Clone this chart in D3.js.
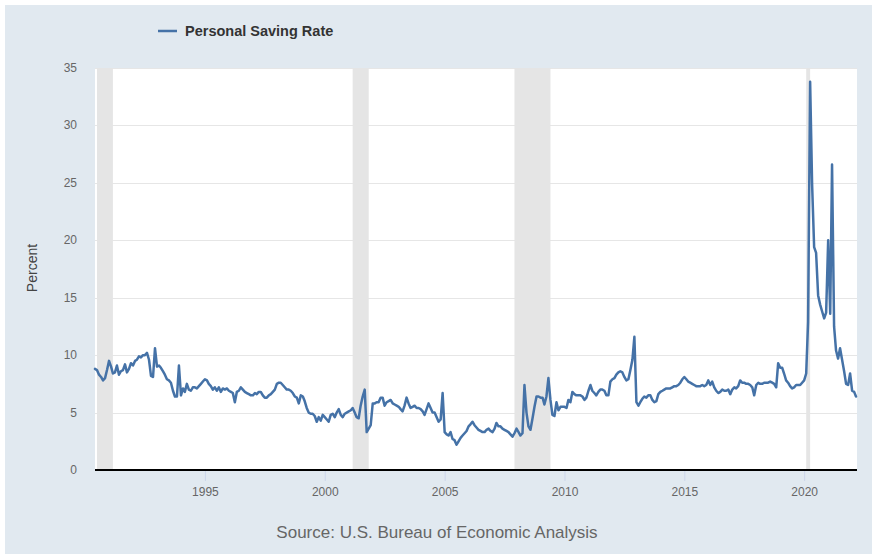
<!DOCTYPE html>
<html>
<head>
<meta charset="utf-8">
<script src="https://cdn.jsdelivr.net/npm/d3@7"></script>
<style>
    html, body { margin: 0; padding: 0; background: #fff; }
    svg { display: block; font-family: "Liberation Sans", Arial, sans-serif; }
</style>
</head>
<body>
<svg id="chart" width="877" height="559"></svg>
<script>
// monthly personal saving rate (percent), first value is June 1990
var firstMonth = "1990-06";
var rates1990s = [
    8.8, 8.7, 8.3, 8.1, 7.8, 8.0, 8.7,
    9.5, 9.0, 8.4, 8.5, 9.1, 8.3, 8.6, 8.7, 9.2, 8.5, 8.8, 9.3,
    9.1, 9.5, 9.6, 9.9, 9.8, 10.0, 10.0, 10.2, 9.6, 8.2, 8.1, 10.6,
    9.0, 9.1, 8.9, 8.6, 8.3, 7.9, 7.8, 7.6, 6.9, 6.4, 6.4, 9.1,
    6.5, 7.1, 6.8, 7.5, 7.0, 6.9, 7.2, 7.2, 7.1, 7.3, 7.5, 7.7,
    7.9, 7.8, 7.5, 7.3, 7.0, 7.2, 6.9, 7.2, 6.8, 7.1, 7.0, 7.1,
    6.9, 6.8, 6.7, 5.9, 6.8, 6.9, 7.2, 7.0, 6.8, 6.7, 6.6, 6.5,
    6.5, 6.7, 6.6, 6.8, 6.8, 6.5, 6.3, 6.3, 6.5, 6.6, 6.8, 7.0,
    7.5, 7.6, 7.6, 7.4, 7.2, 7.0, 7.0, 6.9, 6.7, 6.4, 6.3, 5.8,
    6.5, 6.4, 6.0, 5.4, 5.0, 4.9, 4.9, 4.7, 4.2, 4.6, 4.3, 4.8
];
var rates2000s = [
    4.6, 4.4, 4.2, 4.8, 4.9, 4.6, 5.0, 5.3, 4.8, 4.6, 4.9, 5.0,
    5.1, 5.2, 5.4, 5.0, 4.6, 4.5, 5.6, 6.4, 7.0, 3.3, 3.6, 3.9,
    5.8, 5.8, 5.9, 5.9, 6.3, 6.3, 5.6, 5.9, 6.0, 6.1, 5.8, 5.7,
    5.6, 5.5, 5.3, 5.1, 5.6, 6.3, 5.8, 5.4, 5.5, 5.6, 5.4, 5.4,
    5.3, 5.1, 4.8, 5.3, 5.8, 5.4, 5.0, 5.0, 4.6, 4.2, 4.4, 6.7,
    3.3, 3.1, 3.0, 3.3, 2.7, 2.6, 2.2, 2.5, 2.8, 3.0, 3.2, 3.4,
    3.8, 4.0, 4.2, 3.9, 3.7, 3.5, 3.4, 3.3, 3.3, 3.5, 3.6, 3.4,
    3.3, 3.6, 4.1, 3.8, 3.8, 3.6, 3.5, 3.4, 3.3, 3.1, 2.9, 3.2,
    3.6, 3.3, 3.0, 3.2, 7.4, 5.0, 3.8, 3.5, 4.5, 5.5, 6.4, 6.4,
    6.3, 6.3, 5.7, 6.4, 8.0, 6.1, 4.8, 4.7, 5.9, 5.2, 5.5, 5.5
];
var rates2010s = [
    5.5, 5.4, 6.1, 5.9, 6.8, 6.6, 6.5, 6.5, 6.5, 6.4, 6.1, 6.3,
    6.9, 7.4, 6.9, 6.7, 6.5, 6.8, 7.0, 7.0, 6.9, 6.5, 6.5, 7.7,
    7.9, 8.0, 8.3, 8.5, 8.6, 8.5, 8.1, 7.8, 7.9, 8.7, 9.6, 11.6,
    5.9, 5.6, 5.9, 6.2, 6.4, 6.3, 6.5, 6.5, 6.1, 5.9, 6.0, 6.6,
    6.8, 6.9, 7.0, 7.1, 7.1, 7.1, 7.2, 7.3, 7.3, 7.4, 7.6, 7.9,
    8.1, 7.9, 7.7, 7.6, 7.5, 7.4, 7.3, 7.3, 7.3, 7.4, 7.3, 7.4,
    7.8, 7.4, 7.7, 7.2, 6.9, 6.7, 6.8, 7.0, 6.9, 6.9, 7.0, 6.6,
    7.0, 7.2, 7.1, 7.3, 7.8, 7.6, 7.6, 7.5, 7.5, 7.4, 7.2, 6.5,
    7.4, 7.6, 7.5, 7.5, 7.6, 7.6, 7.6, 7.7, 7.6, 7.5, 7.2, 9.3,
    8.9, 8.9, 8.4, 7.8, 7.6, 7.3, 7.1, 7.2, 7.4, 7.4, 7.4, 7.6
];
var rates2020s = [
    7.8, 8.4, 12.9, 33.8, 24.9, 19.4, 18.9, 15.2, 14.4, 13.8, 13.2, 13.7,
    20.0, 13.6, 26.6, 12.5, 10.4, 9.7, 10.6, 9.6, 8.6, 7.5, 7.4, 8.4,
    6.9, 6.8, 6.4
];

var recessionStarts = ["1990-07", "2001-03", "2007-12", "2020-02"];
var recessionEnds = ["1991-03", "2001-11", "2009-06", "2020-04"];
var yTicks = [0, 5, 10, 15, 20, 25, 30, 35];
var xTickYears = [1995, 2000, 2005, 2010, 2015, 2020];

var seriesName = "Personal Saving Rate",
    yTitle = "Percent",
    sourceText = "Source: U.S. Bureau of Economic Analysis",
    lineColor = "#4572a7";

var parseMonth = d3.utcParse("%Y-%m");

drawChart();

function buildData() {
    var values = rates1990s.concat(rates2000s, rates2010s, rates2020s),
        start = parseMonth(firstMonth);
    return values.map(function(v, i) {
        return {date: d3.utcMonth.offset(start, i), value: v};
    });
}

function drawChart() {
    var data = buildData(),
        svg = d3.select("#chart"),
        left = 95,
        right = 856,
        top = 68,
        bottom = 470;

    var x = d3.scaleUtc()
        .domain(d3.extent(data, function(d) { return d.date; }))
        .range([left, right]);
    var y = d3.scaleLinear()
        .domain([0, 35])
        .range([bottom, top]);

    // outer panel
    svg.append("rect")
        .attr("x", 5)
        .attr("y", 5)
        .attr("width", 867)
        .attr("height", 549)
        .attr("fill", "#e1e9f0");

    svg.append("rect")
        .attr("x", left)
        .attr("y", top)
        .attr("width", right - left + 1)
        .attr("height", bottom - top)
        .attr("fill", "#fff");

    // horizontal grid
    svg.append("g")
        .selectAll("line")
        .data(yTicks)
        .join("line")
            .attr("x1", left)
            .attr("x2", right + 1)
            .attr("y1", function(d) { return Math.round(y(d)) + 0.5; })
            .attr("y2", function(d) { return Math.round(y(d)) + 0.5; })
            .attr("stroke", "#e6e6e6")
            .attr("stroke-width", 1);

    // recession shading
    svg.append("g")
        .selectAll("rect")
        .data(recessionStarts)
        .join("rect")
            .attr("x", function(d) { return x(parseMonth(d)); })
            .attr("y", top)
            .attr("width", function(d, i) {
                return Math.max(2, x(parseMonth(recessionEnds[i])) - x(parseMonth(d)));
            })
            .attr("height", bottom - top)
            .attr("fill", "#e5e5e5");

    // y labels
    svg.append("g")
        .selectAll("text")
        .data(yTicks)
        .join("text")
            .attr("x", 77)
            .attr("y", function(d) { return y(d) + 4; })
            .attr("text-anchor", "end")
            .attr("font-size", "12px")
            .attr("fill", "#666")
            .text(function(d) { return d; });

    // x axis ticks and labels
    var xAxis = svg.append("g")
        .attr("transform", "translate(0," + bottom + ")")
        .call(d3.axisBottom(x)
            .tickValues(xTickYears.map(function(yr) { return new Date(Date.UTC(yr, 0, 1)); }))
            .tickFormat(d3.utcFormat("%Y"))
            .tickSizeInner(11)
            .tickSizeOuter(0)
            .tickPadding(6));
    xAxis.select(".domain").remove();
    xAxis.selectAll(".tick line").attr("stroke", "#ccd6eb");
    xAxis.selectAll(".tick text")
        .attr("font-family", "Liberation Sans, Arial, sans-serif")
        .attr("font-size", "12px")
        .attr("fill", "#666");

    svg.append("line")
        .attr("x1", left)
        .attr("x2", right + 1)
        .attr("y1", bottom)
        .attr("y2", bottom)
        .attr("stroke", "#000")
        .attr("stroke-width", 2);

    var line = d3.line()
        .x(function(d) { return x(d.date); })
        .y(function(d) { return y(d.value); });

    svg.append("path")
        .datum(data)
        .attr("fill", "none")
        .attr("stroke", lineColor)
        .attr("stroke-width", 2.5)
        .attr("stroke-linejoin", "round")
        .attr("stroke-linecap", "round")
        .attr("d", line);

    // legend
    svg.append("line")
        .attr("x1", 158)
        .attr("x2", 177)
        .attr("y1", 31)
        .attr("y2", 31)
        .attr("stroke", lineColor)
        .attr("stroke-width", 2.5);
    svg.append("text")
        .attr("x", 185)
        .attr("y", 36)
        .attr("font-size", "14.5px")
        .attr("font-weight", "bold")
        .attr("fill", "#333")
        .text(seriesName);

    svg.append("text")
        .attr("transform", "translate(37,268) rotate(-90)")
        .attr("text-anchor", "middle")
        .attr("font-size", "14px")
        .attr("fill", "#444")
        .text(yTitle);

    svg.append("text")
        .attr("x", 437)
        .attr("y", 538)
        .attr("text-anchor", "middle")
        .attr("font-size", "17px")
        .attr("fill", "#666")
        .text(sourceText);
}
</script>
</body>
</html>
